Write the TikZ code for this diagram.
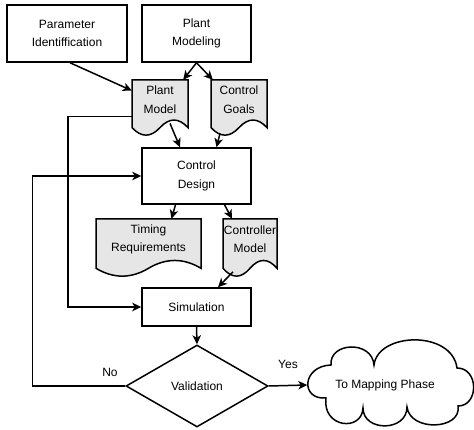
\documentclass[tikz,border=0pt]{standalone}
\usepackage{fontspec}
\setmainfont{Liberation Sans}
\usetikzlibrary{arrows.meta,shapes.geometric,calc}
\definecolor{docgray}{RGB}{230,230,230}
\tikzset{
  lbl/.style={font=\fontsize{12}{18.5}\selectfont, align=center, inner sep=0pt},
  box/.style={lbl, draw, line width=1.5pt, rectangle},
  docshape/.style={draw, line width=1.5pt, fill=docgray},
  diam/.style={lbl, draw, line width=1.5pt, diamond, minimum width=142pt, minimum height=82pt},
  arr/.style={line width=1.5pt, -{Stealth[length=9pt,width=8.5pt,inset=2.5pt]}},
  cloudline/.style={draw, line width=1.5pt, fill=white}
}
\newcommand\docnode[6]{%
  \pgfmathsetmacro\dL{#2}%
  \pgfmathsetmacro\dR{#2+#4}%
  \pgfmathsetmacro\dT{#3}%
  \pgfmathsetmacro\dC{#3+0.85*#5}%
  \pgfmathsetmacro\dU{#3+0.67*#5}%
  \pgfmathsetmacro\dD{#3+1.03*#5}%
  \pgfmathsetmacro\xa{#2+0.8333*#4}%
  \pgfmathsetmacro\xb{#2+0.6667*#4}%
  \pgfmathsetmacro\xm{#2+0.5*#4}%
  \pgfmathsetmacro\xc{#2+0.3333*#4}%
  \pgfmathsetmacro\xd{#2+0.1667*#4}%
  \pgfmathsetmacro\yc{#3+0.35*#5}%
  \pgfmathsetmacro\hh{0.7*#5}%
  \draw[docshape] (\dL,\dT) -- (\dR,\dT) -- (\dR,\dC) .. controls (\xa,\dU) and (\xb,\dU) .. (\xm,\dC) .. controls (\xc,\dD) and (\xd,\dD) .. (\dL,\dC) -- cycle;
  \node[lbl, minimum width=#4pt, minimum height=\hh pt] (#1) at (\xm,\yc) {#6};
}
\begin{document}
\begin{tikzpicture}[x=1pt,y=-1pt]
\useasboundingbox (0,0) rectangle (474,430);

% boxes
\node[box, minimum width=120pt, minimum height=57pt] (pid) at (67,33.5) {Parameter\\Identiffication};
\node[box, minimum width=109pt, minimum height=57pt] (pmod) at (196.5,33.5) {Plant\\Modeling};
\node[box, minimum width=109pt, minimum height=56pt] (cdes) at (196.5,176) {Control\\Design};
\node[box, minimum width=109pt, minimum height=38pt] (sim) at (196.5,307) {Simulation};
\node[diam] (val) at (197,386) {Validation};

% documents
\docnode{pm}{132}{80}{56}{56}{Plant\\Model}
\docnode{cg}{211}{80}{56}{56}{Control\\Goals}
\docnode{tr}{96}{219}{105}{58}{Timing\\Requirements}
\docnode{cm}{223}{219}{54}{58}{Controller\\Model}

% cloud
\draw[cloudline] (331,365) .. controls (329,342) and (372,340) .. (374,365)
  .. controls (378,332) and (452,330) .. (457,368)
  .. controls (479,368) and (479,406) .. (458,406)
  .. controls (462,430) and (410,432) .. (407,407)
  .. controls (407,432) and (363,432) .. (363,408)
  .. controls (362,432) and (322,428) .. (326,398)
  .. controls (300,400) and (302,366) .. (331,365) -- cycle;
\node[lbl, minimum width=155pt, minimum height=84pt] (cloud) at (385,385) {To Mapping Phase};

% connectors
\draw[arr] ([xshift=3pt]pid.south) -- ([yshift=9pt]pm.west);
\draw[arr] (pmod.south) -- ([xshift=-5pt]pm.north east);
\draw[arr] (pmod.south) -- ([xshift=2pt]cg.north west);
\draw[arr] ([xshift=10pt,yshift=-4pt]pm.south) -- ([xshift=-16.5pt]cdes.north);
\draw[arr] ([xshift=-19pt,yshift=-14pt]cg.south) -- ([xshift=20pt]cdes.north);
\draw[arr] ([xshift=-21pt]cdes.south) -- ([xshift=23pt]tr.north);
\draw[arr] ([xshift=28pt]cdes.south) -- ([xshift=-18pt]cm.north);
\draw[arr] ([xshift=-17pt,yshift=-12pt]cm.south) -- ([xshift=21.5pt]sim.north);
\draw[arr] ([yshift=-17pt]pm.west) -- ++(-64,0) |- (sim.west);
\draw[arr] (sim.south) -- (val.north);
\draw[arr] (val.west) -- ++(-93,0) |- (cdes.west);
\draw[arr] (val.east) -- (cloud.west);

% labels
\node[lbl] (yes) at (288,364) {Yes};
\node[lbl] (no) at (110,372) {No};
\end{tikzpicture}
\end{document}
